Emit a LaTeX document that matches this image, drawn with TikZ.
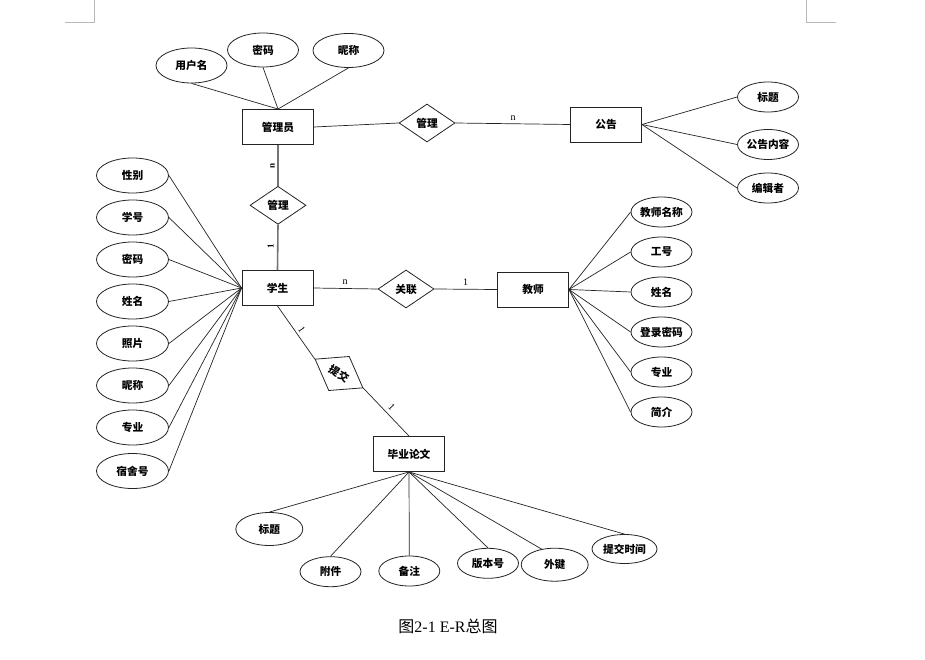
\documentclass[tikz,border=0pt]{standalone}
\usepackage{fontspec}
\setmainfont{Liberation Serif}
\newfontfamily\cjk{Noto Sans CJK SC}
\usetikzlibrary{shapes.geometric}
\definecolor{lineDark}{RGB}{35, 35, 35}
\definecolor{linkGray}{RGB}{115, 115, 115}
\definecolor{markGray}{RGB}{185, 185, 185}

\begin{document}
\begin{tikzpicture}[
    x=1pt, y=-1pt,
    entityNode/.style={rectangle, draw=lineDark, line width=0.9pt, minimum width=71pt, minimum height=35pt, inner sep=0pt, font=\cjk\bfseries\fontsize{10.7}{12}\selectfont},
    attrNode/.style={ellipse, draw=lineDark, line width=0.8pt, minimum width=61pt, minimum height=30pt, inner sep=0pt, font=\cjk\bfseries\fontsize{10.7}{12}\selectfont},
    bigAttr/.style={attrNode, minimum width=71pt, minimum height=35pt},
    relNode/.style={diamond, draw=lineDark, line width=0.8pt, minimum width=56pt, minimum height=38pt, inner sep=0pt, font=\cjk\bfseries\fontsize{10.7}{12}\selectfont},
    cardLabel/.style={inner sep=0pt, font=\fontsize{10}{12}\selectfont},
    link/.style={draw=lineDark, line width=0.7pt},
    cornerMark/.style={draw=markGray, line width=0.8pt}
  ]
    \useasboundingbox (0,0) rectangle (925,660);

    % page corner marks
    \draw[cornerMark] (94,0) -- (94,22) -- (65,22);
    \draw[cornerMark] (806,0) -- (806,22) -- (836,22);

    % Administrator and announcement
    \node[entityNode] (adm) at (278,127) {管理员};
    \node[bigAttr] (admUser) at (191.5,65.5) {用户名};
    \node[bigAttr, minimum height=34pt] (admPwd) at (263,50) {密码};
    \node[bigAttr, minimum height=34pt] (admNick) at (348.5,50.5) {昵称};
    \node[relNode] (relMng) at (427,123) {管理};
    \node[entityNode] (ann) at (606,124.5) {公告};
    \node[attrNode, minimum height=30pt] (annTitle) at (768,97) {标题};
    \node[attrNode, minimum height=30pt] (annBody) at (768,144.5) {公告内容};
    \node[attrNode, minimum height=30pt] (annEditor) at (768,188) {编辑者};

    % Student
    \node[relNode] (relAdm) at (278,205.3) {管理};
    \node[entityNode] (stu) at (277.5,288) {学生};
    \node[bigAttr, minimum width=72pt] (stuSex) at (132.5,175.5) {性别};
    \node[bigAttr, minimum width=72pt] (stuNo) at (132.5,217.5) {学号};
    \node[bigAttr, minimum width=72pt] (stuPwd) at (132.5,259.5) {密码};
    \node[bigAttr, minimum width=72pt] (stuName) at (132.5,301.5) {姓名};
    \node[bigAttr, minimum width=72pt] (stuPhoto) at (132.5,343.5) {照片};
    \node[bigAttr, minimum width=72pt] (stuNick) at (132.5,385.5) {昵称};
    \node[bigAttr, minimum width=72pt] (stuMajor) at (132.5,427.5) {专业};
    \node[bigAttr, minimum width=72pt] (stuDorm) at (132.5,471) {宿舍号};

    % Teacher
    \node[relNode] (relLink) at (406,289) {关联};
    \node[entityNode] (tea) at (533,289.5) {教师};
    \node[attrNode] (teaTitle) at (661.5,212) {教师名称};
    \node[attrNode] (teaNo) at (661.5,252) {工号};
    \node[attrNode] (teaName) at (661.5,292) {姓名};
    \node[attrNode] (teaPwd) at (661.5,332) {登录密码};
    \node[attrNode] (teaMajor) at (661.5,372) {专业};
    \node[attrNode] (teaIntro) at (661.5,412) {简介};

    % Thesis
    \node[relNode, minimum height=40pt, rotate=-31] (relSub) at (339,373.5) {提交};
    \node[entityNode] (the) at (409,454) {毕业论文};
    \node[attrNode, minimum width=67pt, minimum height=33pt] (theTitle) at (269.3,529) {标题};
    \node[attrNode] (theFile) at (330.5,571.7) {附件};
    \node[attrNode] (theNote) at (409.3,571) {备注};
    \node[attrNode] (theVer) at (488,563.3) {版本号};
    \node[attrNode, minimum width=67pt, minimum height=33pt] (theKey) at (554.7,564.7) {外键};
    \node[attrNode, minimum width=65pt, minimum height=29pt] (theTime) at (624.5,549) {提交时间};

    % Cardinalities
    \node[cardLabel] (cardAnn) at (513,118) {n};
    \node[cardLabel, font=\bfseries\fontsize{9}{10}\selectfont, rotate=90] (cardAdm) at (272.5,166) {n};
    \node[cardLabel, font=\bfseries\fontsize{9}{10}\selectfont, rotate=90] (cardStuA) at (270.7,246.5) {1};
    \node[cardLabel] (cardStuL) at (345,282.5) {n};
    \node[cardLabel] (cardTea) at (465.7,282.5) {1};
    \node[cardLabel, rotate=-55] (cardStuS) at (301.7,329.3) {1};
    \node[cardLabel, rotate=-47] (cardThe) at (391.7,407.3) {1};

    % Connections
    \draw[link] (admUser.south) -- (adm.north);
    \draw[link] (admPwd.south) -- (adm.north);
    \draw[link] (admNick.south) -- (adm.north);
    \draw[link] (adm.east) -- (relMng.west);
    \draw[link] (relMng.east) -- (ann.west);
    \draw[link] (ann.east) -- (annTitle.west);
    \draw[link] (ann.east) -- (annBody.west);
    \draw[link] (ann.east) -- (annEditor.west);

    \draw[draw=linkGray, line width=1.6pt] (adm.south) -- (relAdm.north);
    \draw[draw=linkGray, line width=1.6pt] (relAdm.south) -- (stu.north);

    \draw[link] (stuSex.east) -- (stu.west);
    \draw[link] (stuNo.east) -- (stu.west);
    \draw[link] (stuPwd.east) -- (stu.west);
    \draw[link] (stuName.east) -- (stu.west);
    \draw[link] (stuPhoto.east) -- (stu.west);
    \draw[link] (stuNick.east) -- (stu.west);
    \draw[link] (stuMajor.east) -- (stu.west);
    \draw[link] (stuDorm.east) -- (stu.west);

    \draw[link] (stu.east) -- (relLink.west);
    \draw[link] (relLink.east) -- (tea.west);
    \draw[link] (tea.east) -- (teaTitle.west);
    \draw[link] (tea.east) -- (teaNo.west);
    \draw[link] (tea.east) -- (teaName.west);
    \draw[link] (tea.east) -- (teaPwd.west);
    \draw[link] (tea.east) -- (teaMajor.west);
    \draw[link] (tea.east) -- (teaIntro.west);

    \draw[link] (stu.south) -- (relSub.west);
    \draw[link] (relSub.east) -- (the.north);
    \draw[link] (the.south) -- (theTitle.north);
    \draw[link] (the.south) -- (theFile.north);
    \draw[link] (the.south) -- (theNote.north);
    \draw[link] (the.south) -- (theVer.north);
    \draw[link] (the.south) -- (theKey.130);
    \draw[link] (the.south) -- (theTime.north);

    % Caption
    \node[font=\fontsize{16}{19}\selectfont] (caption) at (448,626) {{\cjk 图}2-1 E-R{\cjk 总图}};
  \end{tikzpicture}
\end{document}
